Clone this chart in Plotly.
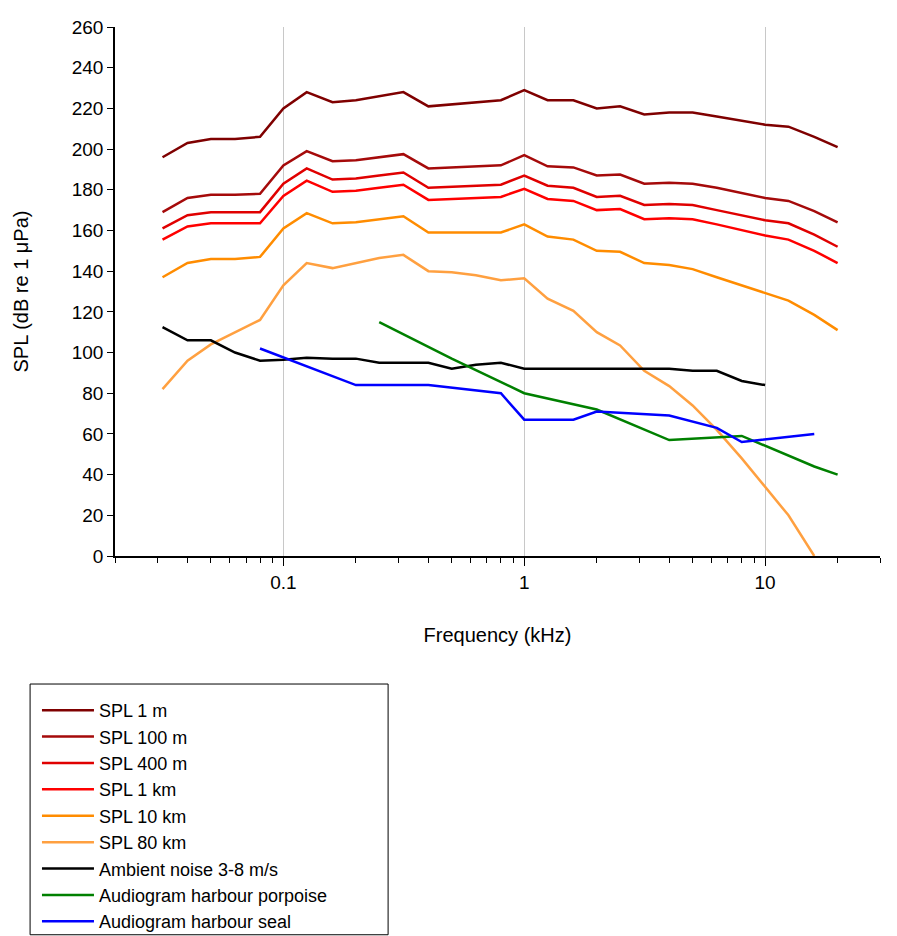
import plotly.graph_objects as go

freq = [0.0315, 0.04, 0.05, 0.063, 0.08, 0.1, 0.125, 0.16, 0.2, 0.25, 0.315, 0.4, 0.5, 0.63, 0.8,
        1, 1.25, 1.6, 2, 2.5, 3.15, 4, 5, 6.3, 8, 10, 12.5, 16, 20]

spl_1m = [196, 203, 205, 205, 206, 220, 228, 223, 224, 226, 228, 221, 222, 223, 224,
          229, 224, 224, 220, 221, 217, 218, 218, 216, 214, 212, 211, 206, 201]
spl_100m = [169, 176, 177.5, 177.5, 178, 192, 199, 194, 194.5, 196, 197.5, 190.5, 191, 191.5, 192,
            197, 191.5, 191, 187, 187.5, 183, 183.5, 183, 181, 178.5, 176, 174.5, 169.5, 164]
spl_400m = [161, 167.5, 169, 169, 169, 183, 190.5, 185, 185.5, 187, 188.5, 181, 181.5, 182, 182.5,
            187, 182, 181, 176.5, 177, 172.5, 173, 172.5, 170, 167.5, 165, 163.5, 158, 152]
spl_1km = [155.5, 162, 163.5, 163.5, 163.5, 177, 184.5, 179, 179.5, 181, 182.5, 175, 175.5, 176, 176.5,
           180.5, 175.5, 174.5, 170, 170.5, 165.5, 166, 165.5, 163, 160, 157.5, 155.5, 150, 144]
spl_10km = [137, 144, 146, 146, 147, 161, 168.5, 163.5, 164, 165.5, 167, 159, 159, 159, 159,
            163, 157, 155.5, 150, 149.5, 144, 143, 141, 137, 133, 129, 125.5, 118.5, 111]
spl_80km = [82, 96, 104, 110, 116, 133, 144, 141.5, 144, 146.5, 148, 140, 139.5, 138, 135.5,
            136.5, 126.5, 120.5, 110, 103.5, 91, 83.5, 74, 62, 48, 34, 20, 0]
ambient = [112.5, 106, 106, 100, 96, 96.5, 97.5, 97, 97, 95, 95, 95, 92, 94, 95,
           92, 92, 92, 92, 92, 92, 92, 91, 91, 86, 84]

porpoise_f = [0.25, 0.5, 1, 2, 4, 8, 16, 20]
porpoise = [115, 97, 80, 72, 57, 59, 44, 40]
seal_f = [0.08, 0.2, 0.4, 0.8, 1, 1.6, 2, 4, 6.3, 8, 16]
seal = [102, 84, 84, 80, 67, 67, 71, 69, 63, 56, 60]

series = [
    ("SPL 1 m", freq, spl_1m, "#7f0000"),
    ("SPL 100 m", freq, spl_100m, "#a50a0a"),
    ("SPL 400 m", freq, spl_400m, "#e00000"),
    ("SPL 1 km", freq, spl_1km, "#ff0000"),
    ("SPL 10 km", freq, spl_10km, "#ff8c00"),
    ("SPL 80 km", freq[:len(spl_80km)], spl_80km, "#ffa040"),
    ("Ambient noise 3-8 m/s", freq[:len(ambient)], ambient, "#000000"),
    ("Audiogram harbour porpoise", porpoise_f, porpoise, "#008000"),
    ("Audiogram harbour seal", seal_f, seal, "#0000ff"),
]

fig = go.Figure()
for name, x, y, c in series:
    fig.add_trace(go.Scatter(x=x, y=y, name=name, mode="lines",
                             line=dict(color=c, width=2.5)))

minor_vals = [m * 10 ** e for e in (-2, -1, 0, 1) for m in range(2, 10) if m * 10 ** e <= 30]

# legend frame
fig.add_shape(type="rect", xref="paper", yref="paper",
              x0=-0.111, x1=0.357, y0=-0.716, y1=-0.242,
              line=dict(color="black", width=1), fillcolor="rgba(0,0,0,0)")

fig.update_layout(
    width=897, height=936,
    margin=dict(l=107, r=25, t=19, b=388, autoexpand=False),
    plot_bgcolor="white", paper_bgcolor="white",
    font=dict(family="Liberation Sans, Arial", size=19, color="black"),
    xaxis=dict(type="log", range=[-1.699, 1.477],
               tickvals=[0.1, 1, 10], ticktext=["0.1", "1", "10"],
               ticks="outside", ticklen=8, tickcolor="black",
               showgrid=True, gridcolor="#c8c8c8", gridwidth=1,
               showline=True, linecolor="black", linewidth=1.5,
               minor=dict(tickvals=minor_vals, ticks="outside", ticklen=5,
                          tickcolor="black", showgrid=False),
               title=dict(text="Frequency (kHz)", font=dict(size=20), standoff=36),
               zeroline=False),
    yaxis=dict(range=[0, 260], dtick=20, ticks="outside", ticklen=6, tickcolor="black",
               showgrid=False, showline=True, linecolor="black", linewidth=1.5,
               title=dict(text="SPL (dB re 1 μPa)", font=dict(size=20), standoff=38),
               zeroline=False),
    legend=dict(x=-0.102, y=-0.257, xanchor="left", yanchor="top",
                borderwidth=0, bgcolor="rgba(0,0,0,0)",
                font=dict(size=18), tracegroupgap=0, itemwidth=52),
)

fig.write_html("out.html")
